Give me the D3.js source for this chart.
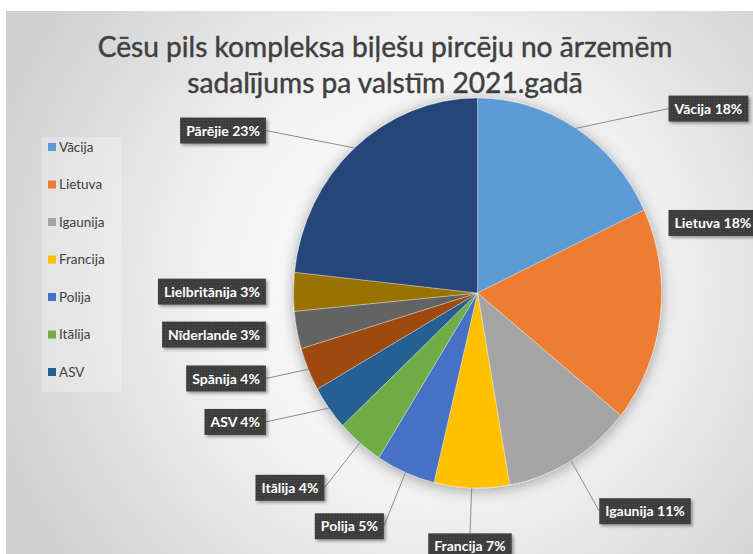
<!DOCTYPE html>
<html>
<head>
<meta charset="utf-8">
<script src="https://cdn.jsdelivr.net/npm/d3@7"></script>
<style>
  body { margin: 0; background: #fff; }
  svg { display: block; }
</style>
</head>
<body>
<div id="chart"></div>
<script>
// chart data
const categories = ["Vācija", "Lietuva", "Igaunija", "Francija", "Polija", "Itālija", "ASV", "Spānija", "Nīderlande", "Lielbritānija", "Pārējie"]
const shares = [18.0, 17.8, 11.4, 6.6, 5.2, 4.1, 3.7, 3.6, 3.1, 3.2, 23.3]
const colors = ["#5B9BD5", "#ED7D31", "#A5A5A5", "#FFC000", "#4472C4", "#70AD47", "#255E91", "#9E480E", "#636363", "#997300", "#264478"]
const titleLines = ["Cēsu pils kompleksa biļešu pircēju no ārzemēm", "sadalījums pa valstīm 2021.gadā"]
const legendShown = 7   // the legend in the original is cut after ASV

const width = 753, height = 554
const font = "Lato, 'Open Sans', sans-serif"

const svg = d3.select("#chart").append("svg")
    .attr("width", width)
    .attr("height", height)

const defs = svg.append("defs")

const bg = defs.append("radialGradient")
    .attr("id", "bg")
    .attr("gradientUnits", "userSpaceOnUse")
    .attr("cx", 430).attr("cy", 280).attr("r", 470)
bg.append("stop").attr("offset", "0%").attr("stop-color", "#ffffff")
bg.append("stop").attr("offset", "45%").attr("stop-color", "#f3f3f3")
bg.append("stop").attr("offset", "100%").attr("stop-color", "#cfcfcf")

const pieShadow = defs.append("filter").attr("id", "pieShadow")
    .attr("x", "-20%").attr("y", "-20%").attr("width", "140%").attr("height", "140%")
pieShadow.append("feDropShadow")
    .attr("dx", 0).attr("dy", 2).attr("stdDeviation", 7)
    .attr("flood-color", "#000").attr("flood-opacity", 0.35)

const boxShadow = defs.append("filter").attr("id", "boxShadow")
    .attr("x", "-10%").attr("y", "-20%").attr("width", "130%").attr("height", "160%")
boxShadow.append("feDropShadow")
    .attr("dx", 2).attr("dy", 2).attr("stdDeviation", 1.5)
    .attr("flood-color", "#000").attr("flood-opacity", 0.35)

const dots = defs.append("pattern").attr("id", "dots")
    .attr("width", 3).attr("height", 3).attr("patternUnits", "userSpaceOnUse")
dots.append("rect").attr("width", 3).attr("height", 3).attr("fill", "#3d3d3d")
dots.append("rect").attr("width", 1).attr("height", 1).attr("fill", "#4d4d4d")

// chart area
svg.append("rect")
    .attr("x", 6).attr("y", 11)
    .attr("width", width).attr("height", height)
    .attr("fill", "url(#bg)")

// title, scaled to the width of the original
const title = svg.append("g")
    .attr("font-family", font)
    .attr("fill", "#404040")
    .attr("stroke", "#404040")
    .attr("stroke-width", 0.45)
    .attr("text-anchor", "middle")

const t1 = title.append("text").attr("x", 385).attr("y", 57)
    .attr("font-size", 30).text(titleLines[0])
const fit = 30 * 575 / t1.node().getComputedTextLength()
t1.attr("font-size", fit)
title.append("text").attr("x", 385).attr("y", 93)
    .attr("font-size", fit).text(titleLines[1])

// legend
const legend = svg.append("g")
    .attr("transform", "translate(42,137)")

legend.append("rect")
    .attr("width", 79).attr("height", 255)
    .attr("fill", "#ffffff").attr("fill-opacity", 0.25)

const legendY = d3.scalePoint()
    .domain(categories.slice(0, legendShown))
    .range([10, 235])

const item = legend.selectAll(".item")
    .data(categories.slice(0, legendShown))
    .enter().append("g")
    .attr("class", "item")
    .attr("transform", d => "translate(6," + legendY(d) + ")")

item.append("rect")
    .attr("y", -4).attr("width", 8).attr("height", 8)
    .attr("fill", (d, i) => colors[i])

item.append("text")
    .attr("x", 11).attr("dy", "0.36em")
    .attr("font-family", font).attr("font-size", 13.5)
    .attr("fill", "#404040")
    .text(d => d)

// pie (the original picture is slightly stretched vertically)
const cx = 477.5, cy = 293, rx = 184, ry = 195
const total = d3.sum(shares)

const pie = d3.pie().sort(null).value(d => d)
const arcs = pie(shares)

const arc = d3.arc().innerRadius(0).outerRadius(rx)

const pieG = svg.append("g")
    .attr("transform", "translate(" + cx + "," + cy + ") scale(1," + (ry / rx) + ")")
    .attr("filter", "url(#pieShadow)")

pieG.selectAll("path")
    .data(arcs)
    .enter().append("path")
    .attr("d", arc)
    .attr("fill", (d, i) => colors[i])
    .attr("stroke", "#ffffff")
    .attr("stroke-opacity", 0.45)
    .attr("stroke-width", 0.7)

// data labels, placed roughly the way Excel does "best fit"
const leftCol = cx - rx * 1.15, rightCol = cx + rx + 7
const boxH = 26

const labels = arcs.map((d, i) => {
    const a = (d.startAngle + d.endAngle) / 2
    const s = Math.sin(a), c = Math.cos(a)
    const bottom = c < -0.7
    const dist = bottom ? 1.3 : 1.12
    let x = cx + rx * dist * s
    let y = cy - ry * dist * c
    let ex = cx + rx * s, ey = cy - ry * c
    let side = s > 0.1 ? "right" : (s < -0.1 ? "left" : "middle")
    if (!bottom && side == "left") x = Math.min(x, leftCol)
    if (!bottom && side == "right") x = rightCol
    // a slice across the right horizontal: label hangs from the slice's upper edge
    if (d.startAngle < Math.PI / 2 && d.endAngle > Math.PI / 2) {
        ey = cy - ry * Math.cos(d.startAngle)
        ex = cx + rx * Math.sin(d.startAngle)
        y = ey + boxH / 2
    }
    return {
        text: categories[i] + " " + Math.round(shares[i] / total * 100) + "%",
        x: x, y: y, side: side, ex: ex, ey: ey
    }
})

const lab = svg.append("g")
    .attr("font-family", font)
    .attr("font-weight", "bold")
    .attr("font-size", 14)

labels.forEach(l => {
    const g = lab.append("g")
    const txt = g.append("text")
        .attr("fill", "#ffffff")
        .attr("dy", "0.36em")
        .text(l.text)
    const w = txt.node().getComputedTextLength() + 12
    let bx
    if (l.side == "left") bx = l.x - w
    else if (l.side == "right") bx = l.x
    else bx = l.x - w / 2
    const by = l.y - boxH / 2
    txt.attr("x", bx + 6).attr("y", l.y)
    g.insert("rect", "text")
        .attr("x", bx).attr("y", by)
        .attr("width", w).attr("height", boxH)
        .attr("fill", "url(#dots)")
        .attr("filter", "url(#boxShadow)")

    // leader line to the nearest edge of the box
    let px, py
    if (l.side == "left") { px = bx + w; py = l.y }
    else if (l.side == "right") { px = bx; py = l.y }
    else { px = l.x; py = by }
    if (Math.hypot(px - l.ex, py - l.ey) > 40) {
        lab.insert("line", ":first-child")
            .attr("x1", l.ex).attr("y1", l.ey)
            .attr("x2", px).attr("y2", py)
            .attr("stroke", "#8c8c8c")
            .attr("stroke-width", 1)
    }
})
</script>
</body>
</html>
